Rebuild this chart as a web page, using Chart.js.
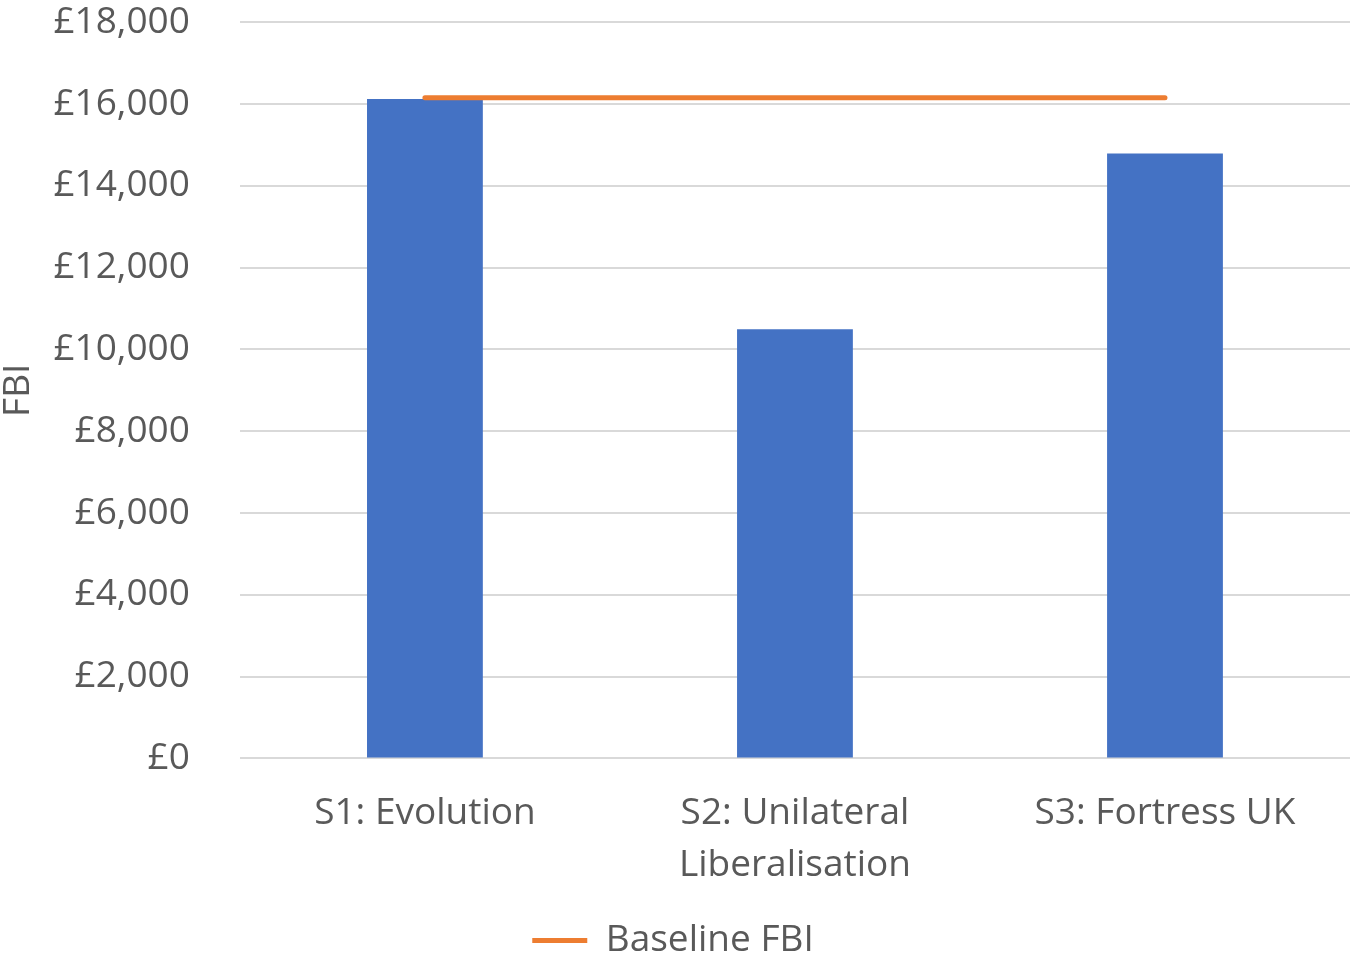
<!DOCTYPE html>
<html>
<head>
<meta charset="utf-8">
<script src="https://cdn.jsdelivr.net/npm/chart.js@4.4.1/dist/chart.umd.min.js"></script>
<style>
  html, body { margin: 0; padding: 0; background: #ffffff; }
  #wrap { width: 1350px; height: 958px; position: relative; }
</style>
</head>
<body>
<div id="wrap"><canvas id="chart" width="1350" height="958"></canvas></div>
<script>
// Scenario categories (multi-line where the label wraps)
const categories = [
  ["S1: Evolution"],
  ["S2: Unilateral", "Liberalisation"],
  ["S3: Fortress UK"]
];
// FBI per scenario (£)
const fbiValues = [16120, 10490, 14790];
// Baseline FBI reference level (£)
const baselineValues = [16150, 16150, 16150];
// Y axis range and step (£)
const yMin = 0;
const yMax = 18000;
const yStep = 2000;

const textColor = '#595959';
const fontFamily = "'Open Sans', 'Noto Sans', sans-serif";
const fontSize = 37;

new Chart(document.getElementById('chart'), {
  type: 'bar',
  data: {
    labels: categories,
    datasets: [
      {
        type: 'line',
        label: 'Baseline FBI',
        data: baselineValues,
        borderColor: '#ED7D31',
        backgroundColor: '#ED7D31',
        borderWidth: 5,
        borderCapStyle: 'round',
        pointRadius: 0,
        pointStyle: 'line',
        fill: false,
        order: 0
      },
      {
        type: 'bar',
        label: 'FBI',
        data: fbiValues,
        backgroundColor: '#4472C4',
        borderWidth: 0,
        barPercentage: 0.313,
        categoryPercentage: 1,
        order: 1
      }
    ]
  },
  options: {
    responsive: false,
    animation: false,
    layout: { padding: { top: 0, right: 0, left: -4, bottom: -11 } },
    plugins: {
      tooltip: { enabled: false },
      legend: {
        position: 'bottom',
        labels: {
          filter: (item) => item.text === 'Baseline FBI',
          color: textColor,
          font: { family: fontFamily, size: fontSize },
          usePointStyle: true,
          pointStyleWidth: 55,
          padding: 2
        }
      }
    },
    scales: {
      x: {
        grid: { display: false, drawTicks: false },
        border: { display: false },
        ticks: {
          color: textColor,
          font: { family: fontFamily, size: fontSize, lineHeight: 1.4 },
          padding: 29,
          maxRotation: 0,
          autoSkip: false
        }
      },
      y: {
        min: yMin,
        max: yMax,
        title: {
          display: true,
          text: 'FBI',
          color: textColor,
          font: { family: fontFamily, size: fontSize },
          padding: { top: 0, bottom: 13 }
        },
        grid: {
          color: '#D9D9D9',
          lineWidth: 2,
          drawTicks: true,
          tickLength: 50,
          tickColor: 'rgba(0,0,0,0)'
        },
        border: { display: false },
        ticks: {
          stepSize: yStep,
          color: textColor,
          font: { family: fontFamily, size: fontSize },
          padding: 0,
          callback: (v) => '£' + Number(v).toLocaleString('en-GB')
        }
      }
    }
  }
});
</script>
</body>
</html>
